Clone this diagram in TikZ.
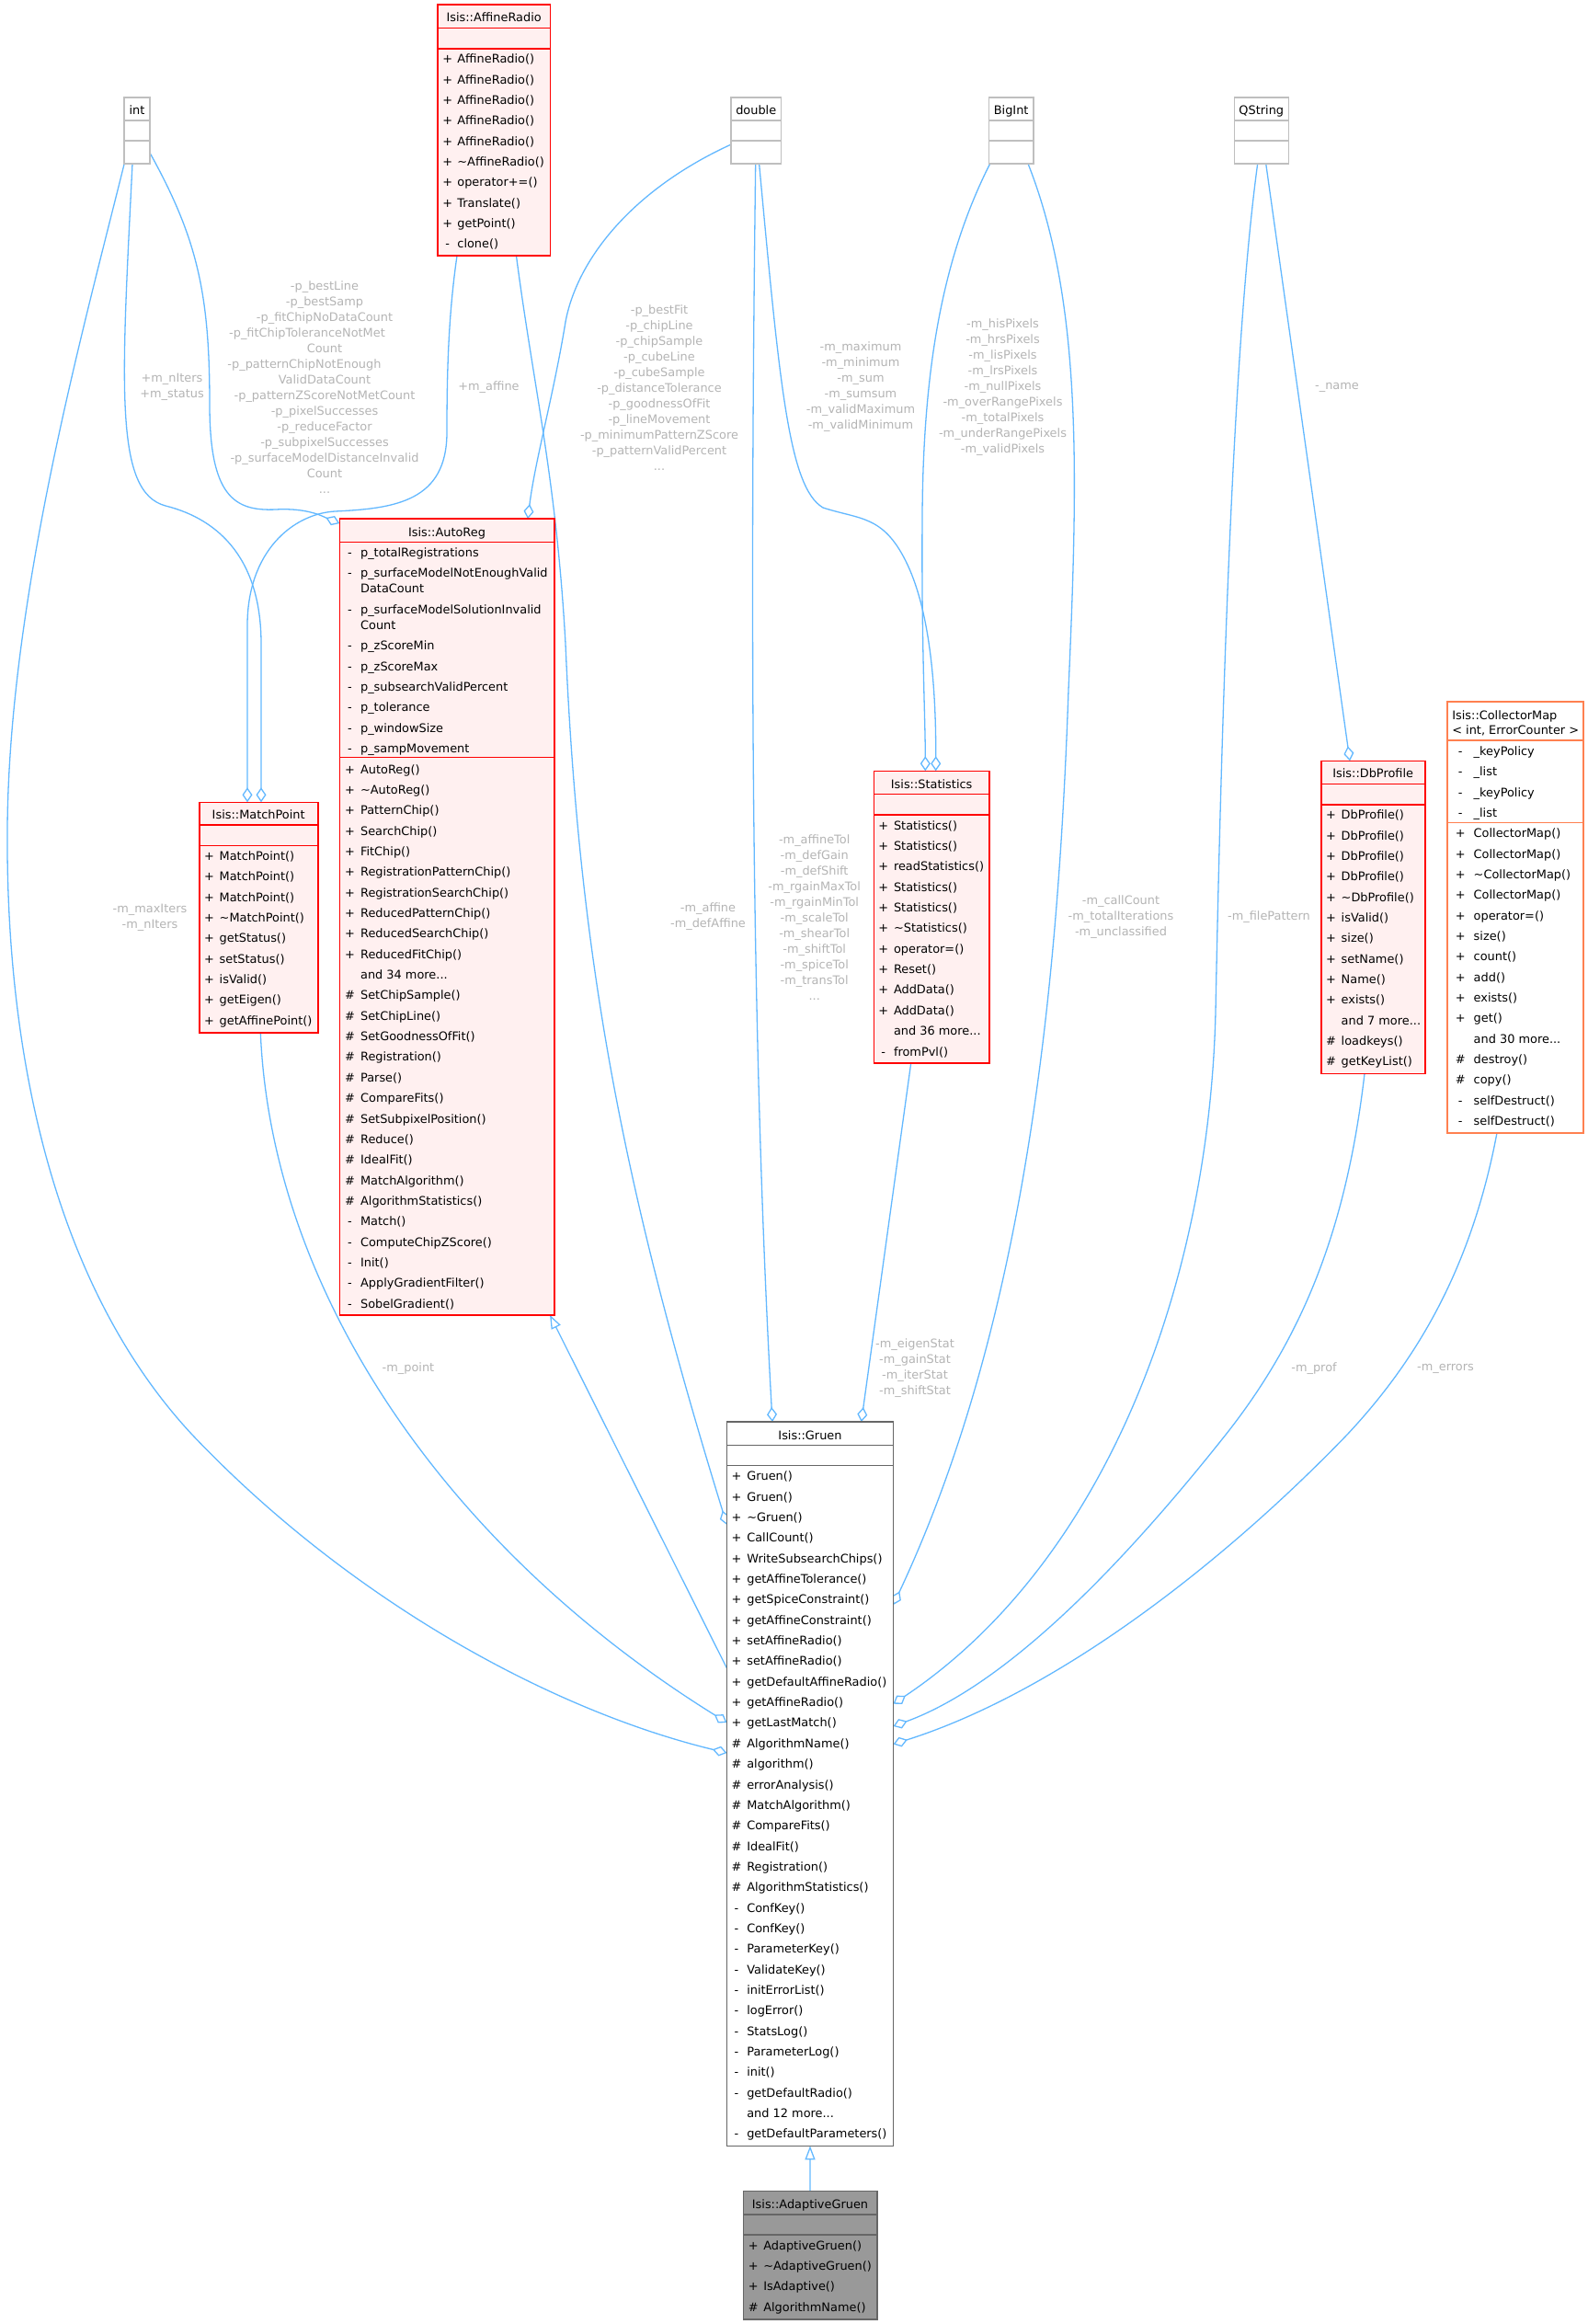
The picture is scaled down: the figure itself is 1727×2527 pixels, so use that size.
\documentclass[tikz,border=0pt]{standalone}
\usepackage{fontspec}
\setmainfont{DejaVu Sans}
\usetikzlibrary{arrows.meta,calc,fit}
\pgfdeclarelayer{background}
\pgfsetlayers{background,main}
\definecolor{edgeblue}{HTML}{63B8FF}
\definecolor{lblgray}{HTML}{B4B4B4}
\definecolor{pinkfill}{HTML}{FFF0F0}
\definecolor{grayborder}{HTML}{BFBFBF}
\definecolor{darkborder}{HTML}{666666}
\definecolor{adaptfill}{HTML}{999999}
\definecolor{orangeborder}{HTML}{FF8050}
\newcommand\dfont{\fontsize{6.45pt}{8.5pt}\selectfont}
\newcommand\mdots{...}
\tikzset{
  x=0.5pt, y=-0.5pt,
  every node/.style={inner sep=0pt, outer sep=0pt, font=\dfont},
  boxbase/.style={inner sep=0pt, line width=0.8pt},
  typebox/.style={boxbase, draw=grayborder, fill=white},
  redbox/.style={boxbase, draw=red, fill=pinkfill},
  orangebox/.style={boxbase, draw=orangeborder, fill=white},
  mainbox/.style={boxbase, draw=darkborder, fill=white},
  focusbox/.style={boxbase, draw=darkborder, fill=adaptfill},
  rowtxt/.style={anchor=mid west},
  titletxt/.style={anchor=mid},
  lbl/.style={text=lblgray, align=center, font=\dfont},
  agg/.style={draw=edgeblue, line width=0.65pt, -{Diamond[open, length=8pt, width=5.5pt]}},
  inh/.style={draw=edgeblue, line width=0.65pt, -{Triangle[open, length=7.5pt, width=5.5pt]}},
}
% separator line: colour, node, offset from top
\newcommand\sepline[3]{\draw[draw=#1, line width=0.8pt] ($(#2.north west)+(0,#3)$) -- ($(#2.north east)+(0,#3)$);}
% single row: name, node, dx, dy, prefix, gap, text
\newcommand\crow[7]{\node[rowtxt] (#1) at ($(#2.north west)+(#3,#4)$) {\makebox[0pt][c]{#5}\hspace{#6}#7};}
% list of rows: node, name prefix, dx, first dy, spacing, gap, list
\newcommand\rowlist[7]{%
  \foreach \p/\n [count=\i] in {#7}{%
    \node[rowtxt] (#2-\i) at ($(#1.north west)+(#3,{#4+(\i-1)*#5})$) {\makebox[0pt][c]{\p}\hspace{#6}\n};
  }}
\begin{document}
\begin{tikzpicture}
\useasboundingbox (0,0) rectangle (1727,2527);

% ---------- simple type boxes
\node[typebox, fit={(135.2,105.7) (162.9,177.9)}] (int) {};
\node[typebox, fit={(795.2,105.7) (849.3,177.9)}] (double) {};
\node[typebox, fit={(1075.5,105.7) (1123.8,177.9)}] (bigint) {};
\node[typebox, fit={(1342.3,105.7) (1401.3,177.9)}] (qstring) {};
\foreach \b/\t in {int/int,double/double,bigint/BigInt,qstring/QString}{
  \node[titletxt] (\b-title) at ($(\b.north)+(0,13.2)$) {\t};
  \sepline{grayborder}{\b}{25}
  \sepline{grayborder}{\b}{47.5}
}

% ---------- AffineRadio
\node[redbox, fit={(475.7,5) (598.6,278.2)}] (affine) {};
\node[titletxt] (affine-title) at ($(affine.north)+(0,13.2)$) {Isis::AffineRadio};
\sepline{red}{affine}{25.4}
\sepline{red}{affine}{47.9}
\rowlist{affine}{affine-m}{11.1}{58.2}{22.35}{5.3pt}{+/AffineRadio(), +/AffineRadio(), +/AffineRadio(), +/AffineRadio(), +/AffineRadio(), +/\textasciitilde AffineRadio(), +/operator+=(), +/Translate(), +/getPoint(), -/clone()}

% ---------- AutoReg
\node[redbox, fit={(369.3,564.1) (602.7,1429.8)}] (autoreg) {};
\node[titletxt] (autoreg-title) at ($(autoreg.north)+(0,14.4)$) {Isis::AutoReg};
\sepline{red}{autoreg}{25.3}
\sepline{red}{autoreg}{259.5}
\crow{ar-a1}{autoreg}{11.2}{35.6}{-}{5.8pt}{p\_totalRegistrations}
\crow{ar-a2}{autoreg}{11.2}{58}{-}{5.8pt}{p\_surfaceModelNotEnoughValid}
\crow{ar-a2b}{autoreg}{11.2}{75.2}{}{5.8pt}{DataCount}
\crow{ar-a3}{autoreg}{11.2}{97.6}{-}{5.8pt}{p\_surfaceModelSolutionInvalid}
\crow{ar-a3b}{autoreg}{11.2}{114.8}{}{5.8pt}{Count}
\rowlist{autoreg}{ar-b}{11.2}{137.2}{22.35}{5.8pt}{-/p\_zScoreMin, -/p\_zScoreMax, -/p\_subsearchValidPercent, -/p\_tolerance, -/p\_windowSize, -/p\_sampMovement}
\rowlist{autoreg}{ar-m}{11.2}{271.5}{22.35}{5.8pt}{+/AutoReg(), +/\textasciitilde AutoReg(), +/PatternChip(), +/SearchChip(), +/FitChip(), +/RegistrationPatternChip(), +/RegistrationSearchChip(), +/ReducedPatternChip(), +/ReducedSearchChip(), +/ReducedFitChip(), {}/and 34 more\mdots, \#/SetChipSample(), \#/SetChipLine(), \#/SetGoodnessOfFit(), \#/Registration(), \#/Parse(), \#/CompareFits(), \#/SetSubpixelPosition(), \#/Reduce(), \#/IdealFit(), \#/MatchAlgorithm(), \#/AlgorithmStatistics(), -/Match(), -/ComputeChipZScore(), -/Init(), -/ApplyGradientFilter(), -/SobelGradient()}

% ---------- MatchPoint
\node[redbox, fit={(216.7,872.3) (345.7,1123)}] (matchpoint) {};
\node[titletxt] (matchpoint-title) at ($(matchpoint.north)+(0,12.7)$) {Isis::MatchPoint};
\sepline{red}{matchpoint}{24.7}
\sepline{red}{matchpoint}{47}
\rowlist{matchpoint}{mp-m}{10.8}{57.7}{22.35}{5.6pt}{+/MatchPoint(), +/MatchPoint(), +/MatchPoint(), +/\textasciitilde MatchPoint(), +/getStatus(), +/setStatus(), +/isValid(), +/getEigen(), +/getAffinePoint()}

% ---------- Statistics
\node[redbox, fit={(950.3,838.3) (1076,1156)}] (stats) {};
\node[titletxt] (stats-title) at ($(stats.north)+(0,13.7)$) {Isis::Statistics};
\sepline{red}{stats}{25}
\sepline{red}{stats}{47.4}
\rowlist{stats}{st-m}{10.5}{58.4}{22.35}{5.6pt}{+/Statistics(), +/Statistics(), +/readStatistics(), +/Statistics(), +/Statistics(), +/\textasciitilde Statistics(), +/operator=(), +/Reset(), +/AddData(), +/AddData(), {}/and 36 more\mdots, -/fromPvl()}

% ---------- DbProfile
\node[redbox, fit={(1436.7,827.3) (1549.7,1167.3)}] (dbprofile) {};
\node[titletxt] (dbprofile-title) at ($(dbprofile.north)+(0,13)$) {Isis::DbProfile};
\sepline{red}{dbprofile}{25}
\sepline{red}{dbprofile}{47.4}
\rowlist{dbprofile}{db-m}{10.8}{58}{22.35}{5.6pt}{+/DbProfile(), +/DbProfile(), +/DbProfile(), +/DbProfile(), +/\textasciitilde DbProfile(), +/isValid(), +/size(), +/setName(), +/Name(), +/exists(), {}/and 7 more\mdots, \#/loadkeys(), \#/getKeyList()}

% ---------- CollectorMap
\node[orangebox, fit={(1574,763) (1721.7,1231.7)}] (collector) {};
\node[rowtxt] (collector-title1) at ($(collector.north west)+(5.3,13.7)$) {Isis::CollectorMap};
\node[rowtxt] (collector-title2) at ($(collector.north west)+(5.3,30.3)$) {< int, ErrorCounter >};
\sepline{orangeborder}{collector}{41.7}
\sepline{orangeborder}{collector}{131.3}
\rowlist{collector}{cm-a}{14.3}{53}{22.35}{7.2pt}{-/\_keyPolicy, -/\_list, -/\_keyPolicy, -/\_list}
\rowlist{collector}{cm-m}{14.3}{142.3}{22.35}{7.2pt}{+/CollectorMap(), +/CollectorMap(), +/\textasciitilde CollectorMap(), +/CollectorMap(), +/operator=(), +/size(), +/count(), +/add(), +/exists(), +/get(), {}/and 30 more\mdots, \#/destroy(), \#/copy(), -/selfDestruct(), -/selfDestruct()}

% ---------- Gruen
\node[mainbox, fit={(790.5,1546) (971.5,2333.3)}] (gruen) {};
\node[titletxt] (gruen-title) at ($(gruen.north)+(0,13.7)$) {Isis::Gruen};
\sepline{darkborder}{gruen}{25.3}
\sepline{darkborder}{gruen}{47.3}
\rowlist{gruen}{gr-m}{10.5}{58.3}{22.35}{5.65pt}{+/Gruen(), +/Gruen(), +/\textasciitilde Gruen(), +/CallCount(), +/WriteSubsearchChips(), +/getAffineTolerance(), +/getSpiceConstraint(), +/getAffineConstraint(), +/setAffineRadio(), +/setAffineRadio(), +/getDefaultAffineRadio(), +/getAffineRadio(), +/getLastMatch(), \#/AlgorithmName(), \#/algorithm(), \#/errorAnalysis(), \#/MatchAlgorithm(), \#/CompareFits(), \#/IdealFit(), \#/Registration(), \#/AlgorithmStatistics(), -/ConfKey(), -/ConfKey(), -/ParameterKey(), -/ValidateKey(), -/initErrorList(), -/logError(), -/StatsLog(), -/ParameterLog(), -/init(), -/getDefaultRadio(), {}/and 12 more\mdots, -/getDefaultParameters()}

% ---------- AdaptiveGruen
\node[focusbox, fit={(808.3,2382.3) (953.7,2521.7)}] (adaptive) {};
\node[titletxt] (adaptive-title) at ($(adaptive.north)+(0,13.7)$) {Isis::AdaptiveGruen};
\sepline{darkborder}{adaptive}{25.4}
\sepline{darkborder}{adaptive}{47.7}
\rowlist{adaptive}{ag-m}{10.9}{58.4}{22.35}{5.55pt}{+/AdaptiveGruen(), +/\textasciitilde AdaptiveGruen(), +/IsAdaptive(), \#/AlgorithmName()}

% ---------- edge labels
\node[lbl] (l-intgr) at (163,997.5) {-m\_maxIters\\-m\_nIters};
\node[lbl] (l-intmp) at (187,421) {+m\_nIters\\+m\_status};
\node[lbl] (l-intar) at (353,421) {-p\_bestLine\\-p\_bestSamp\\-p\_fitChipNoDataCount\\-p\_fitChipToleranceNotMet\hspace{19pt}\mbox{}\\Count\\-p\_patternChipNotEnough\hspace{22pt}\mbox{}\\ValidDataCount\\-p\_patternZScoreNotMetCount\\-p\_pixelSuccesses\\-p\_reduceFactor\\-p\_subpixelSuccesses\\-p\_surfaceModelDistanceInvalid\\Count\\\mdots};
\node[lbl] (l-affmp) at (531.5,421) {+m\_affine};
\node[lbl] (l-dblar) at (717,421.4) {-p\_bestFit\\-p\_chipLine\\-p\_chipSample\\-p\_cubeLine\\-p\_cubeSample\\-p\_distanceTolerance\\-p\_goodnessOfFit\\-p\_lineMovement\\-p\_minimumPatternZScore\\-p\_patternValidPercent\\\mdots};
\node[lbl] (l-dblst) at (936,421) {-m\_maximum\\-m\_minimum\\-m\_sum\\-m\_sumsum\\-m\_validMaximum\\-m\_validMinimum};
\node[lbl] (l-bigst) at (1090.5,421.6) {-m\_hisPixels\\-m\_hrsPixels\\-m\_lisPixels\\-m\_lrsPixels\\-m\_nullPixels\\-m\_overRangePixels\\-m\_totalPixels\\-m\_underRangePixels\\-m\_validPixels};
\node[lbl] (l-qsdb) at (1454,421) {-\_name};
\node[lbl] (l-affgr) at (770,997) {-m\_affine\\-m\_defAffine};
\node[lbl] (l-dblgr) at (885.7,997.3) {-m\_affineTol\\-m\_defGain\\-m\_defShift\\-m\_rgainMaxTol\\-m\_rgainMinTol\\-m\_scaleTol\\-m\_shearTol\\-m\_shiftTol\\-m\_spiceTol\\-m\_transTol\\\mdots};
\node[lbl] (l-biggr) at (1219,997) {-m\_callCount\\-m\_totalIterations\\-m\_unclassified};
\node[lbl] (l-qsgr) at (1380,997.5) {-m\_filePattern};
\node[lbl] (l-mpgr) at (444,1488.6) {-m\_point};
\node[lbl] (l-stgr) at (995,1487.8) {-m\_eigenStat\\-m\_gainStat\\-m\_iterStat\\-m\_shiftStat};
\node[lbl] (l-dbgr) at (1429,1488.6) {-m\_prof};
\node[lbl] (l-cmgr) at (1572,1488.6) {-m\_errors};

% ---------- connectors
\begin{pgfonlayer}{background}
\draw[agg] (int.south west) .. controls (90,360) and (10,650) .. (8,900) .. controls (6,1150) and (60,1400) .. (209,1560) .. controls (380,1740) and (600,1860) .. ($(gruen.north west)+(0,360)$);
\draw[agg] ($(int.south west)+(8.8,0)$) .. controls (132,420) and (124,535) .. (180,550) .. controls (240,565) and (284,610) .. (284,700) -- ($(matchpoint.north west)+(67.3,0)$);
\draw[agg] ($(int.north east)+(0,60.3)$) .. controls (215,260) and (228,320) .. (228,440) .. controls (228,540) and (255,556) .. (300,554) .. controls (335,552) and (352,562) .. ($(autoreg.north west)+(0,5)$);
\draw[agg] ($(affine.south west)+(21.3,0)$) .. controls (488,340) and (486,400) .. (486,470) .. controls (486,545) and (430,553) .. (364,556) .. controls (318,559) and (269,600) .. (269,680) -- ($(matchpoint.north west)+(52.3,0)$);
\draw[agg] ($(affine.south west)+(85.8,0)$) .. controls (580,420) and (605,520) .. (615,700) .. controls (630,1050) and (680,1300) .. ($(gruen.north west)+(0,112)$);
\draw[agg] ($(double.north west)+(0,51.3)$) .. controls (690,205) and (628,280) .. (615,350) .. controls (602,430) and (582,500) .. ($(autoreg.north west)+(204.7,0)$);
\draw[agg] ($(double.south west)+(26.5,0)$) .. controls (815,700) and (818,1150) .. ($(gruen.north west)+(49.5,0)$);
\draw[agg] ($(double.south west)+(30.4,0)$) .. controls (848,420) and (858,530) .. (895,552) .. controls (935,565) and (960,560) .. (985,610) .. controls (1010,660) and (1018,740) .. ($(stats.north west)+(67.4,0)$);
\draw[agg] ($(bigint.south west)+(1.2,0)$) .. controls (1025,280) and (1004,400) .. (1003,560) .. controls (1002,700) and (1006.3,780) .. ($(stats.north west)+(56,0)$);
\draw[agg] ($(bigint.south west)+(42.5,0)$) .. controls (1178,330) and (1172,520) .. (1162,750) .. controls (1150,1100) and (1110,1450) .. ($(gruen.north east)+(0,199)$);
\draw[agg] ($(qstring.south west)+(25.4,0)$) .. controls (1340,380) and (1328,800) .. (1322,1100) .. controls (1315,1400) and (1200,1700) .. ($(gruen.north east)+(0,306.7)$);
\draw[agg] ($(qstring.south west)+(34.4,0)$) -- ($(dbprofile.north west)+(31.3,0)$);
\draw[agg] ($(matchpoint.south west)+(66.6,0)$) .. controls (295,1400) and (480,1680) .. ($(gruen.north west)+(0,327)$);
\draw[agg] ($(stats.south west)+(40.4,0)$) -- ($(gruen.north west)+(146.2,0)$);
\draw[agg] ($(dbprofile.south west)+(47.3,0)$) .. controls (1465,1330) and (1420,1450) .. (1333,1560) .. controls (1230,1690) and (1100,1830) .. ($(gruen.north east)+(0,331)$);
\draw[agg] ($(collector.south west)+(54,0)$) .. controls (1600,1380) and (1540,1480) .. (1465,1560) .. controls (1330,1700) and (1150,1840) .. ($(gruen.north east)+(0,350.5)$);
\draw[inh] ($(gruen.north west)+(0,268)$) -- ($(autoreg.south east)+(-4.7,0)$);
\draw[inh] (adaptive.north) -- (gruen.south);
\end{pgfonlayer}
\end{tikzpicture}
\end{document}
